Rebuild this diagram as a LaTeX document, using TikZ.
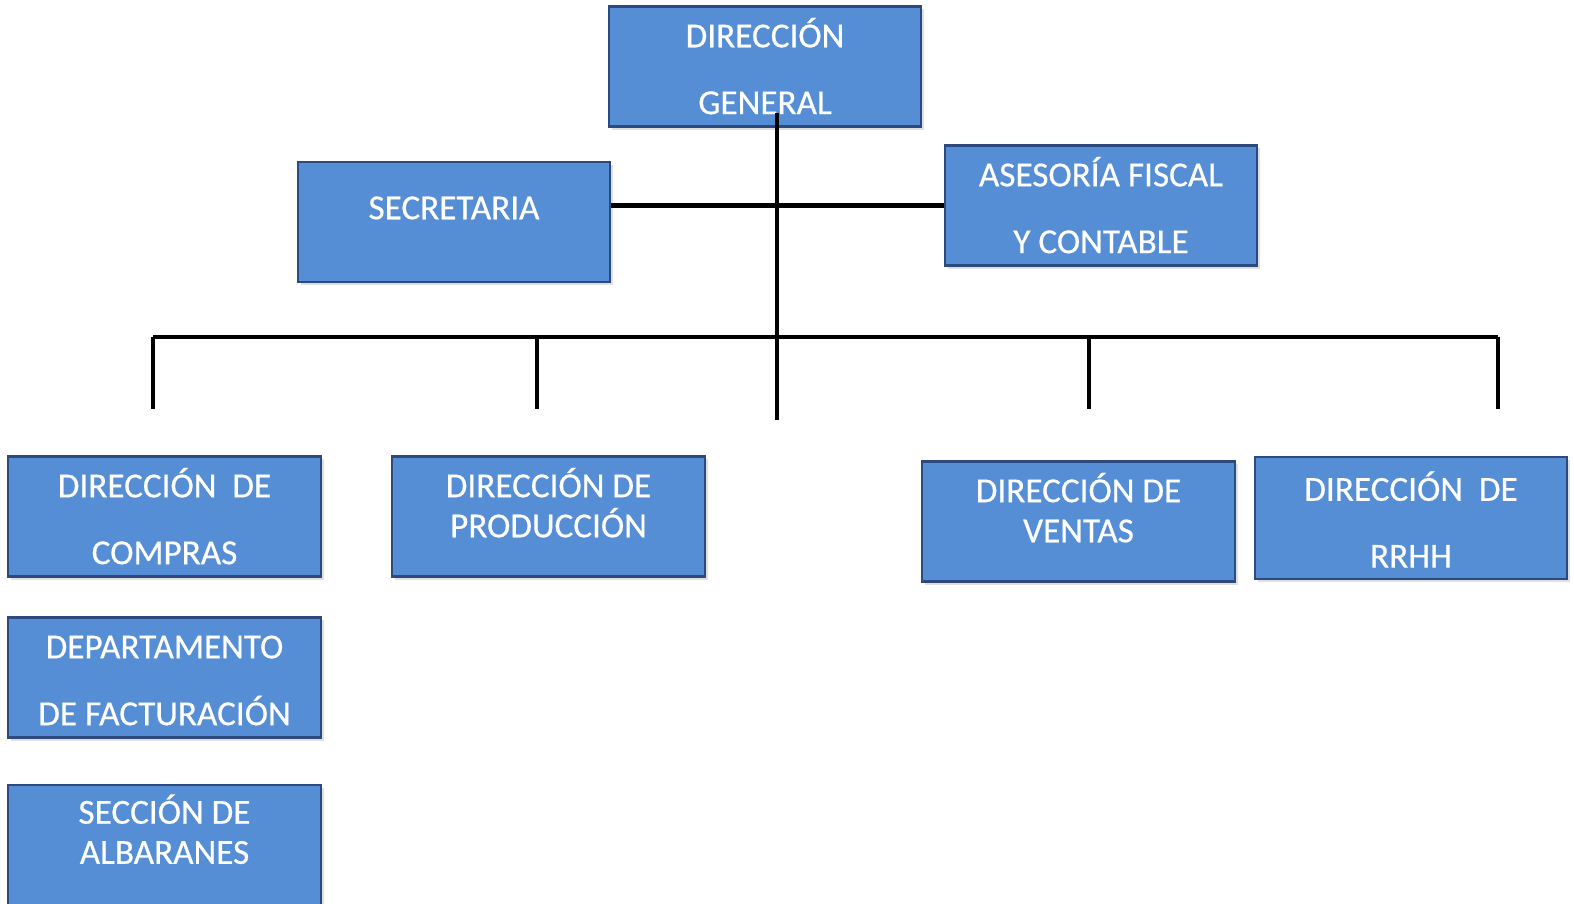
\documentclass[tikz,border=0pt]{standalone}
\usepackage{fontspec}
\setmainfont{Carlito}
\newfontfamily\boxfont{Carlito}[FakeBold=0.5]
\usetikzlibrary{shadows}
\definecolor{boxblue}{RGB}{85,142,213}
\definecolor{boxline}{RGB}{44,74,125}

\begin{document}
\begin{tikzpicture}[x=0.01cm,y=-0.01cm,
  box/.style={rectangle, draw=boxline, line width=0.6pt, fill=boxblue, text=white,
    minimum width=3.12cm, minimum height=1.2cm, align=center,
    font=\boxfont\fontsize{10}{11.4}\selectfont, text height=6.4pt, text depth=0pt,
    drop shadow={shadow xshift=0.03cm, shadow yshift=-0.03cm, fill=black!25}},
  dbl/.style={text height=27.1pt},
  tight/.style={text height=17.8pt},
  link/.style={line width=1.15pt}]
\useasboundingbox (0,0) rectangle (1574,903);

\path
(765,66.5) node[box, dbl] (dg) {DIRECCIÓN\\[7.6pt]GENERAL}
(454,222) node[box, text depth=0.28cm] (secr) {SECRETARIA}
(1101,205.5) node[box, dbl] (ases) {ASESORÍA FISCAL\\[7.6pt]Y CONTABLE}
(164.5,516.5) node[box, dbl] (comp) {DIRECCIÓN\ \ DE\\[7.6pt]COMPRAS}
(548.5,516.5) node[box, tight, text depth=0.21cm] (prod) {DIRECCIÓN DE\\PRODUCCIÓN}
(1078.5,521.5) node[box, tight, text depth=0.21cm] (vent) {DIRECCIÓN DE\\VENTAS}
(1411,518) node[box, text height=28.2pt] (rrhh) {DIRECCIÓN\ \ DE\\[7.6pt]RRHH}
(164.5,677.5) node[box, dbl] (fact) {DEPARTAMENTO\\[7.6pt]DE FACTURACIÓN}
(164.5,845) node[box, tight, text depth=0.25cm] (alb) {SECCIÓN DE\\ALBARANES};

\coordinate (dgtop) at (777,113);
\coordinate (dgend) at (777,420);
\coordinate (busL) at (153,337);
\coordinate (busR) at (1498,337);
\coordinate (d-comp) at (153,409);
\coordinate (d-prod) at (537,409);
\coordinate (d-vent) at (1089,409);
\coordinate (d-rrhh) at (1498,409);

\draw[link] (dgtop) -- (dgend);
\draw[link] (secr.east |- ases.west) -- (ases.west);
\draw[link] (busL) -- (busR);
\draw[link] (busL) -- (d-comp);
\draw[link] (d-prod |- busL) -- (d-prod);
\draw[link] (d-vent |- busL) -- (d-vent);
\draw[link] (busR) -- (d-rrhh);
\end{tikzpicture}
\end{document}
